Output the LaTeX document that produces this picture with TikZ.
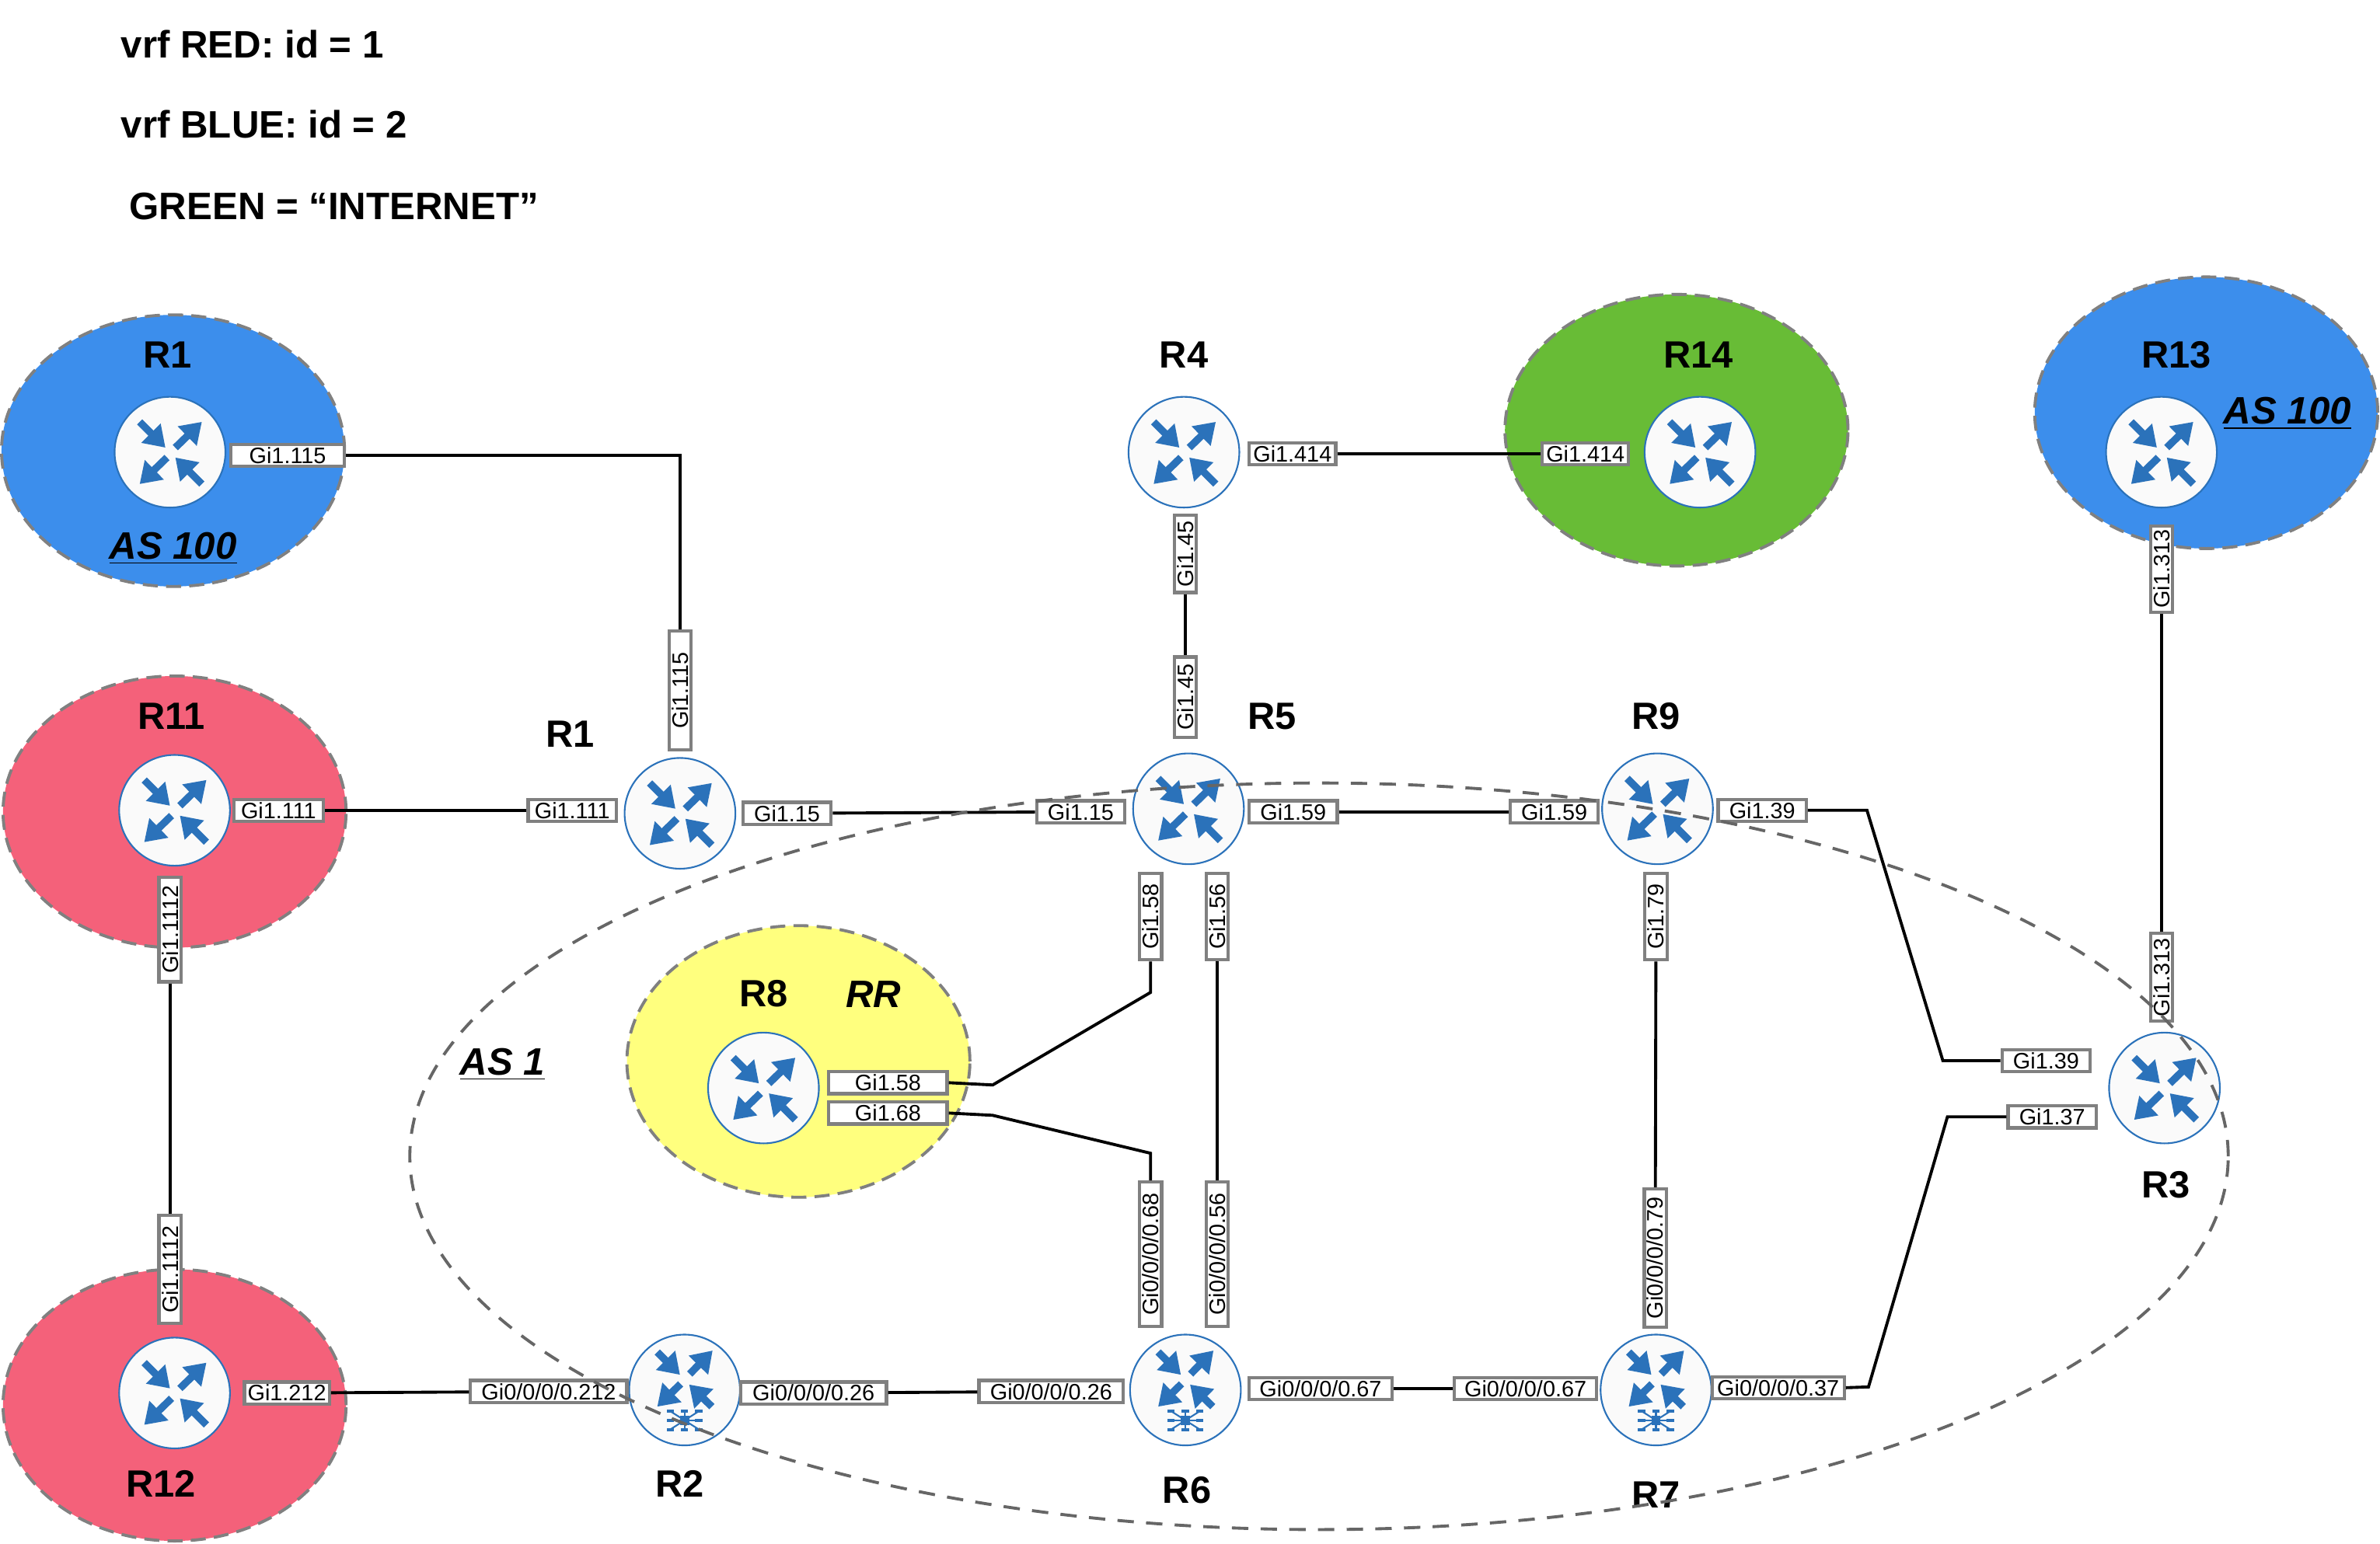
\documentclass[tikz,border=0pt]{standalone}
\usepackage{fontspec}
\setmainfont{Liberation Sans}
\usetikzlibrary{arrows.meta,shapes.geometric}
\definecolor{asblue}{HTML}{3C8EEC}
\definecolor{asred}{HTML}{F4617A}
\definecolor{asgreen}{HTML}{68BC36}
\definecolor{asyellow}{HTML}{FFFF7E}
\definecolor{rtrblue}{HTML}{2B72BA}
\newcommand{\pxu}{*0.019528cm}
\tikzset{
	zone/.style={shape=ellipse,inner sep=0pt,minimum width=226\pxu,minimum height=179\pxu,draw=gray,line width=1.1pt,dash pattern=on 5.5pt off 3pt},
	rtr/.style={draw=rtrblue,circle,fill=black!2,line width=0.6pt,inner sep=0pt,minimum size=73\pxu},
	iface/.style={draw=black!50,fill=white,line width=1.2pt,inner sep=0pt,minimum height=14.5\pxu,font=\fontsize{8.2}{9}\selectfont},
	ifacev/.style={iface,rotate=90},
	rtrlabel/.style={font=\fontsize{13.9}{15}\selectfont\bfseries},
	aslabel/.style={font=\fontsize{14}{15}\selectfont\bfseries\itshape},
	titlelabel/.style={anchor=west,inner sep=0pt,font=\fontsize{14}{15}\selectfont\bfseries},
	link/.style={black,line width=1.1pt},
	rtrarrow/.style={rtrblue,line width=2.7pt,-{Triangle[length=7.5pt,width=9.5pt]}},
	routerpic/.pic={
		\draw[rtrarrow] (-20,-20) -- (-3,-3);
		\draw[rtrarrow] (3.5,-3) -- (21,-20);
		\draw[rtrarrow] (-2,3.5) -- (-20,21);
		\draw[rtrarrow] (21,21) -- (3.5,3.5);
	},
	mplspic/.pic={
		\draw[rtrarrow] (-18,-25) -- (-3,-10);
		\draw[rtrarrow] (3.4,-10.5) -- (18.5,-26);
		\draw[rtrarrow] (-2.6,-4) -- (-18,11);
		\draw[rtrarrow] (18,11) -- (3,-3.6);
		\foreach \dx/\dy in {-9.4/-6,0/-6,9.4/-6,-9.4/0,9.4/0,-9.4/6,0/6,9.4/6}{% spokes of the star
			\draw[rtrblue,line width=0.6pt] (0,20) -- (\dx,20+\dy);
			\fill[rtrblue] (\dx-2.4,19+\dy) rectangle (\dx+2.4,21+\dy);
		}
		\fill[rtrblue] (-3,17) rectangle (3,23);
	}
}
\begin{document}
\begin{tikzpicture}[x=0.019528cm,y=-0.019528cm]
	\useasboundingbox (0,0) rectangle (1568,1017.5);

	\node[titlelabel] (vrfred) at (79.5,29) {vrf RED: id = 1};
	\node[titlelabel] (vrfblue) at (79.5,82) {vrf BLUE: id = 2};
	\node[titlelabel] (inet) at (85,136) {GREEN = “INTERNET”};

	% coloured zones
	\node[zone,fill=asblue] (zoneRa) at (114,297) {};
	\node[zone,fill=asred] (zoneRk) at (115,535) {};
	\node[zone,fill=asred] (zoneRl) at (115,926) {};
	\node[zone,fill=asyellow] (zoneRh) at (526,699.5) {};
	\node[zone,fill=asgreen] (zoneRn) at (1104.5,283.5) {};
	\node[zone,fill=asblue] (zoneRm) at (1453.5,272) {};

	% routers
	\foreach \rname/\x/\y in {rA/112/298,rK/115/534,rL/115/918,rB/448/536,rE/783/533,rI/1092/533,
		rD/780/298,rN/1120/298,rM/1424/298,rH/503/717,rC/1426/717}{
		\node[rtr] (\rname) at (\x,\y) {};
		\pic at (\rname) {routerpic};
	}
	\foreach \rname/\x/\y in {rG/451/916,rF/781/916,rJ/1091/916}{
		\node[rtr] (\rname) at (\x,\y) {};
		\pic at (\rname) {mplspic};
	}

	% router names
	\node[rtrlabel] (nRa) at (110.5,234) {R1};
	\node[rtrlabel] (nRk) at (113,472) {R11};
	\node[rtrlabel] (nRl) at (106,978) {R12};
	\node[rtrlabel] (nRb) at (375.5,484) {R1};
	\node[rtrlabel] (nRd) at (780,234) {R4};
	\node[rtrlabel] (nRn) at (1119,234) {R14};
	\node[rtrlabel] (nRm) at (1434,234) {R13};
	\node[rtrlabel] (nRe) at (838,472) {R5};
	\node[rtrlabel] (nRi) at (1091,472) {R9};
	\node[rtrlabel] (nRh) at (503,655) {R8};
	\node[aslabel] (nRR) at (575.5,655) {RR};
	\node[rtrlabel] (nRg) at (448,978) {R2};
	\node[rtrlabel] (nRf) at (782,982) {R6};
	\node[rtrlabel] (nRj) at (1091,985) {R7};
	\node[rtrlabel] (nRc) at (1427,781) {R3};
	\node[aslabel] (asA) at (114,361.5) {\underline{AS 100}};
	\node[aslabel] (asB) at (1507,272.5) {\underline{AS 100}};
	\node[aslabel] (asC) at (331,701.5) {\underline{AS 1}};

	% interface labels
	\foreach \lname/\x/\y/\w/\txt in {
		aE/189.5/300/75/Gi1.115, kE/183.5/534/59/Gi1.111, bW/377/534/58/Gi1.111,
		bE/518.5/536/58/Gi1.15, eW/712/535/58/Gi1.15, eE/852/535/58/Gi1.59,
		iW/1024/535/58/Gi1.59, iE/1161/534/58/Gi1.39, cNW/1348/699/58/Gi1.39,
		cSW/1352/736/58/Gi1.37, dE/851.5/299/57/Gi1.414, nW/1044.5/299/57/Gi1.414,
		hA/585/713.5/78/Gi1.58, hB/585/733.5/78/Gi1.68, lE/189/918/56/Gi1.212,
		gW/361.5/917/103/{Gi0/0/0/0.212}, gE/536/918/96/{Gi0/0/0/0.26},
		fW/692.5/917/95/{Gi0/0/0/0.26}, fE/870/915/94/{Gi0/0/0/0.67},
		jW/1005/915/94/{Gi0/0/0/0.67}, jE/1171.5/914.5/87/{Gi0/0/0/0.37}}{
		\node[iface,minimum width=\w\pxu] (\lname) at (\x,\y) {\txt};
	}
	\foreach \lname/\x/\y/\w/\txt in {
		bN/448/455/78/Gi1.115, dS/781/365/51/Gi1.45, eN/781/459.5/53/Gi1.45,
		mS/1424/375/57/Gi1.313, cN/1424/644/58/Gi1.313, kS/112/612.5/69/Gi1.1112,
		lN/112/836.5/71/Gi1.1112, eSa/758/604/57/Gi1.58, eSb/802/604/57/Gi1.56,
		iS/1091/604/57/Gi1.79, fNa/758/826.5/95/{Gi0/0/0/0.68}, fNb/802/826.5/95/{Gi0/0/0/0.56},
		jN/1090.5/829/91/{Gi0/0/0/0.79}}{
		\node[ifacev,minimum width=\w\pxu] (\lname) at (\x,\y) {\txt};
	}

	% bend points
	\coordinate (cornerAB) at (448,300);
	\coordinate (cornerIa) at (1230,534);
	\coordinate (cornerIb) at (1280,699);
	\coordinate (cornerCa) at (1283,736);
	\coordinate (cornerCb) at (1231,914);
	\coordinate (cornerHa) at (654,715);
	\coordinate (cornerHb) at (758,654);
	\coordinate (cornerHc) at (654,735);
	\coordinate (cornerHd) at (758,760);

	% links
	\draw[link] (aE.east) -- (cornerAB) -- (bN.east);
	\draw[link] (kE) -- (bW);
	\draw[link] (bE) -- (eW);
	\draw[link] (eE) -- (iW);
	\draw[link] (dE) -- (nW);
	\draw[link] (dS) -- (eN);
	\draw[link] (mS) -- (cN);
	\draw[link] (kS) -- (lN);
	\draw[link] (eSb) -- (fNb);
	\draw[link] (iS) -- (jN);
	\draw[link] (lE) -- (gW);
	\draw[link] (gE) -- (fW);
	\draw[link] (fE) -- (jW);
	\draw[link] (iE.east) -- (cornerIa) -- (cornerIb) -- (cNW.west);
	\draw[link] (cSW.west) -- (cornerCa) -- (cornerCb) -- (jE.east);
	\draw[link] (hA.east) -- (cornerHa) -- (cornerHb) -- (eSa.west);
	\draw[link] (hB.east) -- (cornerHc) -- (cornerHd) -- (fNa.east);

	\node[zone,draw=black!60,fill=none,minimum width=1198\pxu,minimum height=492\pxu,dash pattern=on 6pt off 4.5pt] (asOne) at (869,762) {};% the AS 1 boundary
\end{tikzpicture}
\end{document}
